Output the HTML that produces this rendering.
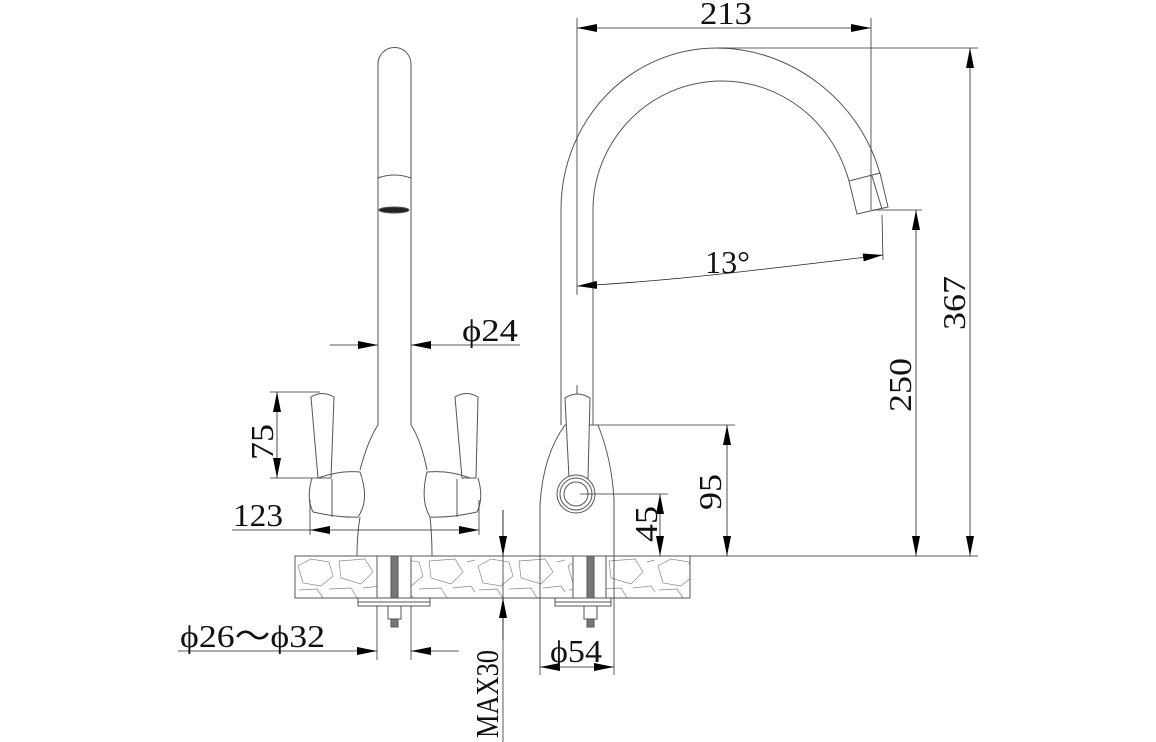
<!DOCTYPE html>
<html><head><meta charset="utf-8"><style>
html,body{margin:0;padding:0;background:#fff}
svg{display:block}
text{font-family:"Liberation Serif",serif;font-size:32px;fill:#111}
</style></head><body>
<svg width="1156" height="742" viewBox="0 0 1156 742" xmlns="http://www.w3.org/2000/svg">
<defs>
<marker id="a" viewBox="0 0 20 8" refX="20" refY="4" markerWidth="20" markerHeight="8" markerUnits="userSpaceOnUse" orient="auto"><path d="M0,0 L20,4 L0,8 Z" fill="#000"/></marker>
<pattern id="st" width="90" height="42" patternUnits="userSpaceOnUse" x="295" y="556">
<path d="M3,10 L16,3 L34,6 L38,20 L26,30 L8,27 Z M44,5 L70,3 L78,16 L66,28 L46,22 Z M4,34 L22,33 L28,42 M34,33 L56,32 L62,42 M68,32 L86,30 L90,36 M82,6 L90,4" fill="none" stroke="#888" stroke-width="0.7"/>
</pattern>
</defs>
<g fill="none" stroke="#555" stroke-width="1">
<rect x="295" y="556" width="395" height="42" fill="url(#st)"/>
<rect x="377" y="556" width="34" height="42" fill="#fff" stroke="none"/>
<rect x="573" y="556" width="33" height="42" fill="#fff" stroke="none"/>
<rect x="295" y="556" width="395" height="42"/>
<line x1="377" y1="556" x2="377" y2="598"/><line x1="411" y1="556" x2="411" y2="598"/>
<line x1="573" y1="556" x2="573" y2="598"/><line x1="606" y1="556" x2="606" y2="598"/>
<line x1="690" y1="556" x2="978" y2="556"/>
<!-- left faucet spout -->
<path d="M378,425 L378,64 A16.5,16.5 0 0 1 411,64 L411,425"/>
<path d="M378,178 Q394,172 411,178"/>
<ellipse cx="394" cy="210" rx="15" ry="3" fill="#222"/>
<path d="M378,425 Q368,440 360,470 M411,425 Q421,440 427,470"/>
<path d="M360,517 Q357,535 357,556 M430,517 Q432,535 432,556"/>
<path d="M311,397 Q322,390 334,397 L331,478 L318,478 Z"/>
<path d="M312,478 Q306,498 313,512 Q340,518 358,517 Q370,500 360,472 Q340,470 318,478"/>
<line x1="332" y1="479" x2="332" y2="517"/>
<path d="M455,397 Q467,390 478,397 L476,478 L462,478 Z"/>
<path d="M478,478 Q484,498 477,512 Q450,518 430,517 Q420,500 427,472 Q450,470 470,478"/>
<line x1="457" y1="479" x2="457" y2="517"/>
<rect x="358" y="598" width="72" height="8"/><line x1="358" y1="602" x2="430" y2="602"/>
<rect x="391" y="556" width="7" height="42" fill="#777"/>
<rect x="388" y="606" width="13" height="13"/><rect x="391" y="619" width="7" height="8" fill="#777"/>
<rect x="555" y="598" width="56" height="8"/><line x1="555" y1="602" x2="611" y2="602"/>
<rect x="587" y="556" width="7" height="42" fill="#777"/>
<rect x="584" y="606" width="13" height="13"/><rect x="587" y="619" width="7" height="8" fill="#777"/>
<!-- right faucet spout -->
<path d="M561,425 L561,210 C561,120 630,48 717,48 C790,48 860,100 880,174"/>
<path d="M593,425 L593,210 C593,140 650,81 722,81 C780,81 832,120 849,181"/>
<path d="M849,181 L880,173 L888,207 L857,214 Z"/>
<line x1="872" y1="176" x2="882" y2="209"/>
<line x1="577" y1="385" x2="577" y2="395"/>
<!-- right body -->
<path d="M540,556 L540,505 Q543,455 565,425 L598,425 Q612,460 614,500 L614,556"/>
<path d="M565,398 Q577,390 590,398 L588,478 L569,478 Z" fill="#fff"/>
<circle cx="576" cy="494" r="19" fill="#fff"/><circle cx="576" cy="494" r="16"/><circle cx="576" cy="494" r="12"/>
</g>
<g fill="none" stroke="#333" stroke-width="0.8">
<line x1="577" y1="18" x2="577" y2="295"/>
<line x1="871" y1="18" x2="871" y2="210"/>
<line x1="717" y1="48" x2="978" y2="48"/>
<line x1="873" y1="210" x2="922" y2="210"/>
<line x1="882" y1="215" x2="883" y2="260"/>
<line x1="598" y1="425" x2="735" y2="425"/>
<line x1="580" y1="494" x2="668" y2="494"/>
<line x1="270" y1="392" x2="320" y2="392"/>
<line x1="270" y1="478" x2="318" y2="478"/>
<line x1="310" y1="500" x2="310" y2="535"/>
<line x1="479" y1="500" x2="479" y2="535"/>
<line x1="503" y1="510" x2="503" y2="742"/>
<line x1="540" y1="556" x2="540" y2="675"/>
<line x1="614" y1="556" x2="614" y2="675"/>
<line x1="377" y1="606" x2="377" y2="660"/>
<line x1="411" y1="606" x2="411" y2="660"/>
</g>
<g fill="none" stroke="#222" stroke-width="0.8" marker-end="url(#a)">
<line x1="724" y1="28" x2="577" y2="28"/><line x1="724" y1="28" x2="871" y2="28"/>
<line x1="970" y1="300" x2="970" y2="48"/><line x1="970" y1="300" x2="970" y2="556"/>
<line x1="916" y1="380" x2="916" y2="210"/><line x1="916" y1="380" x2="916" y2="556"/>
<line x1="727" y1="490" x2="727" y2="425"/><line x1="727" y1="490" x2="727" y2="556"/>
<line x1="660" y1="525" x2="660" y2="494"/><line x1="660" y1="525" x2="660" y2="556"/>
<path d="M730,273 Q650,282 577,286"/><path d="M730,273 Q810,264 883,255"/>
<line x1="330" y1="345" x2="378" y2="345"/><line x1="520" y1="345" x2="411" y2="345"/>
<line x1="277" y1="435" x2="277" y2="392"/><line x1="277" y1="435" x2="277" y2="478"/>
<line x1="395" y1="530" x2="310" y2="530"/><line x1="232" y1="530" x2="310" y2="530" marker-end="none"/><line x1="395" y1="530" x2="479" y2="530"/>
<line x1="178" y1="651" x2="377" y2="651"/><line x1="459" y1="651" x2="411" y2="651"/>
<line x1="503" y1="510" x2="503" y2="556"/><line x1="503" y1="640" x2="503" y2="598"/>
<line x1="577" y1="667" x2="540" y2="667"/><line x1="577" y1="667" x2="614" y2="667"/>
</g>
<text x="700" y="24" textLength="52" lengthAdjust="spacingAndGlyphs">213</text>
<text x="705" y="273" textLength="45" lengthAdjust="spacingAndGlyphs">13°</text>
<text x="462" y="341" textLength="56" lengthAdjust="spacingAndGlyphs">ϕ24</text>
<text x="233" y="526" textLength="50" lengthAdjust="spacingAndGlyphs">123</text>
<text x="180" y="647" textLength="145" lengthAdjust="spacingAndGlyphs">ϕ26～ϕ32</text>
<text x="550" y="662" textLength="52" lengthAdjust="spacingAndGlyphs">ϕ54</text>
<text transform="translate(273,460) rotate(-90)" textLength="36" lengthAdjust="spacingAndGlyphs">75</text>
<text transform="translate(498,738) rotate(-90)" textLength="88" lengthAdjust="spacingAndGlyphs">MAX30</text>
<text transform="translate(657,542) rotate(-90)" textLength="36" lengthAdjust="spacingAndGlyphs">45</text>
<text transform="translate(721,510) rotate(-90)" textLength="36" lengthAdjust="spacingAndGlyphs">95</text>
<text transform="translate(911,412) rotate(-90)" textLength="54" lengthAdjust="spacingAndGlyphs">250</text>
<text transform="translate(965,330) rotate(-90)" textLength="54" lengthAdjust="spacingAndGlyphs">367</text>
</svg>
</body></html>
